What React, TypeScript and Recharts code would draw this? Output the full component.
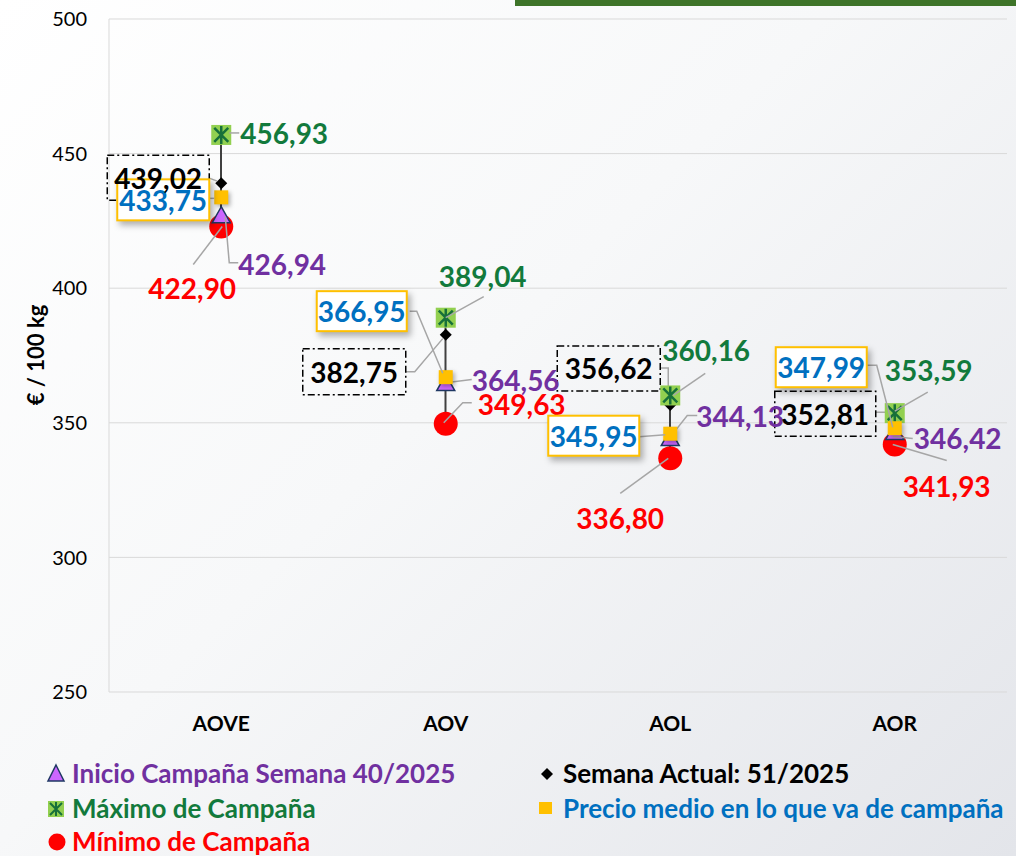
import React from "react";
import { ComposedChart, Line, Bar, XAxis, YAxis, CartesianGrid } from "recharts";

const categories = ["AOVE", "AOV", "AOL", "AOR"];
const inicio = [426.94, 364.56, 344.13, 346.42];
const actual = [439.02, 382.75, 356.62, 352.81];
const maximo = [456.93, 389.04, 360.16, 353.59];
const medio = [433.75, 366.95, 345.95, 347.99];
const minimo = [422.9, 349.63, 336.8, 341.93];
const yTicks = [250, 300, 350, 400, 450, 500];

const data = categories.map((c, i) => ({
  cat: c,
  inicio: inicio[i],
  actual: actual[i],
  maximo: maximo[i],
  medio: medio[i],
  minimo: minimo[i],
}));

type Pt = [number, number];
interface Lay {
  t?: Pt;
  p: Pt[];
  box?: [number, number, number, number];
}

// label placement, relative to the marker
const layMax: Lay[] = [
  { t: [63, -2], p: [[8, -2], [18, -2]] },
  { t: [37, -42], p: [[0, 0], [38, -21]] },
  { t: [36, -45], p: [[3, 0], [35, -22]] },
  { t: [34, -43], p: [[0, -2], [33, -21]] },
];
const layActual: Lay[] = [
  { box: [-114, -28, 102, 45], p: [[-12, -5], [-4, -2]] },
  { box: [-143, 14, 103, 46], p: [[-40, 37], [-31, 37], [-3, 4]] },
  { box: [-113, -59, 103, 45], p: [[-10, -37], [-2, -37], [-2, -6]] },
  { box: [-120, -24, 101, 45], p: [[-19, -3], [-7, -3]] },
];
const layMedio: Lay[] = [
  { box: [-104, -18, 92, 41], p: [[-12, 1], [-7, 1]] },
  { box: [-129, -86, 90, 40], p: [[-36, -66], [-29, -66], [-3, -4]] },
  { box: [-122, -18, 91, 40], p: [[-31, 3], [-5, 1]] },
  { box: [-119, -81, 91, 40], p: [[-28, -63], [-18, -63], [-2, -1]] },
];
const layInicio: Lay[] = [
  { t: [61, 48], p: [[4, 1], [8, 47], [17, 47]] },
  { t: [70, -4], p: [[2, -1], [26, -4]] },
  { t: [70, -23], p: [[-2, 1], [17, -23], [27, -23]] },
  { t: [63, 6], p: [[-2, 4], [18, 6]] },
];
const layMin: Lay[] = [
  { t: [-29, 61], p: [[1, 0], [-28, 38]] },
  { t: [76, -20], p: [[-2, -1], [17, -21], [26, -21]] },
  { t: [-50, 60], p: [[-2, 0], [-50, 35]] },
  { t: [52, 41], p: [[-2, 0], [52, 16]] },
];

const GREEN = "#127a3c";
const PURPLE = "#7030a0";
const RED = "#ff0000";
const BLUE = "#0070c0";
const FONT = "Lato, 'Open Sans', sans-serif";

const fmt = (v: number) => v.toFixed(2).replace(".", ",");

function marker(kind: string, cx: number, cy: number) {
  switch (kind) {
    case "maximo":
      return (
        <g>
          <rect x={cx - 10} y={cy - 10} width={20} height={20} fill="#92d050" />
          <path
            d={`M${cx - 7},${cy - 7}L${cx + 7},${cy + 7}M${cx + 7},${cy - 7}L${cx - 7},${cy + 7}M${cx},${cy - 9}L${cx},${cy + 9}`}
            stroke="#17703a"
            strokeWidth={2.5}
          />
        </g>
      );
    case "actual":
      return <path d={`M${cx},${cy - 6}L${cx + 6},${cy}L${cx},${cy + 6}L${cx - 6},${cy}Z`} fill="#000" />;
    case "medio":
      return (
        <rect
          x={cx - 7}
          y={cy - 7}
          width={14}
          height={14}
          fill="#ffc000"
          style={{ filter: "drop-shadow(2px 2px 2px rgba(0,0,0,0.3))" }}
        />
      );
    case "inicio":
      return (
        <path
          d={`M${cx},${cy - 9}L${cx + 9},${cy + 7}L${cx - 9},${cy + 7}Z`}
          fill="#cc66ff"
          stroke="#1f3864"
          strokeWidth={1.5}
        />
      );
    default:
      return <circle cx={cx} cy={cy} r={12} fill={RED} />;
  }
}

// parts: m = marker, b = leader + box, t = text
function makeDot(
  kind: string,
  vals: number[],
  lays: Lay[],
  color: string,
  boxStyle: "dash" | "yellow" | null,
  parts: string
) {
  return (props: any) => {
    const { cx, cy, index } = props;
    const key = `${kind}-${parts}-${index}`;
    if (cx == null || cy == null) return <g key={key} />;
    const lay = lays[index];
    const pts = lay.p.map(([dx, dy]) => `${cx + dx},${cy + dy}`).join(" ");
    let tx = cx;
    let ty = cy;
    let boxEl = null;
    if (lay.box) {
      const [bx, by, bw, bh] = lay.box;
      tx = cx + bx + bw / 2;
      ty = cy + by + bh / 2;
      boxEl =
        boxStyle === "dash" ? (
          <rect x={cx + bx} y={cy + by} width={bw} height={bh} fill="none" stroke="#000" strokeWidth={1.5} strokeDasharray="7 3 2 3" />
        ) : (
          <rect
            x={cx + bx}
            y={cy + by}
            width={bw}
            height={bh}
            fill="#fff"
            stroke="#ffc000"
            strokeWidth={2}
            style={{ filter: "drop-shadow(3px 4px 3px rgba(0,0,0,0.3))" }}
          />
        );
    } else if (lay.t) {
      tx = cx + lay.t[0];
      ty = cy + lay.t[1];
    }
    return (
      <g key={key}>
        {parts.includes("m") && marker(kind, cx, cy)}
        {parts.includes("b") && <polyline points={pts} fill="none" stroke="#a6a6a6" strokeWidth={1.5} />}
        {parts.includes("b") && boxEl}
        {parts.includes("t") && (
          <text
            x={tx}
            y={ty}
            textAnchor="middle"
            dominantBaseline="central"
            fill={color}
            fontFamily={FONT}
            fontWeight={700}
            fontSize={28}
          >
            {fmt(vals[index])}
          </text>
        )}
      </g>
    );
  };
}

const HiLow = (props: any) => {
  const { x, y, width, height } = props;
  if (x == null || y == null) return null;
  const top = Math.min(y, y + height);
  const bot = Math.max(y, y + height);
  const mx = x + width / 2;
  return <line x1={mx} x2={mx} y1={top} y2={bot} stroke="#404040" strokeWidth={2} />;
};

const legendText: React.CSSProperties = {
  position: "absolute",
  fontFamily: FONT,
  fontWeight: 700,
  fontSize: 26,
  lineHeight: "26px",
  whiteSpace: "nowrap",
};

export default function App() {
  return (
    <div
      style={{
        position: "absolute",
        left: 0,
        top: 0,
        width: 1016,
        height: 856,
        overflow: "hidden",
        background: "linear-gradient(135deg, #ffffff 0%, #f7f8f9 45%, #e3e5ea 100%)",
      }}
    >
      <div style={{ position: "absolute", left: 515, top: 0, width: 501, height: 6, background: "#3e7429" }} />
      <div
        style={{
          position: "absolute",
          left: 35,
          top: 355,
          transform: "translate(-50%, -50%) rotate(-90deg)",
          fontFamily: FONT,
          fontWeight: 700,
          fontSize: 22,
          whiteSpace: "nowrap",
          color: "#000",
        }}
      >
        € / 100 kg
      </div>
      <ComposedChart
        width={1016}
        height={740}
        data={data}
        margin={{ top: 19, right: 9, bottom: 8, left: 0 }}
        style={{ position: "absolute", left: 0, top: 0 }}
      >
        <CartesianGrid vertical={false} stroke="#d9d9d9" />
        <XAxis
          dataKey="cat"
          axisLine={false}
          tickLine={false}
          tickSize={0}
          tickMargin={24}
          height={40}
          tick={{ fill: "#000", fontSize: 21, fontWeight: 700, fontFamily: FONT }}
        />
        <YAxis
          width={109}
          domain={[250, 500]}
          ticks={yTicks}
          allowDataOverflow
          axisLine={{ stroke: "#d9d9d9" }}
          tickLine={false}
          tickSize={0}
          tickMargin={22}
          tick={{ fill: "#000", fontSize: 20, fontFamily: FONT }}
        />
        <Bar dataKey={(d: any) => [d.minimo, d.maximo]} barSize={4} shape={HiLow} isAnimationActive={false} />
        <Line dataKey="actual" stroke="none" isAnimationActive={false} activeDot={false} dot={makeDot("actual", actual, layActual, "#000", "dash", "mb")} />
        <Line dataKey="maximo" stroke="none" isAnimationActive={false} activeDot={false} dot={makeDot("maximo", maximo, layMax, GREEN, null, "mbt")} />
        <Line dataKey="minimo" stroke="none" isAnimationActive={false} activeDot={false} dot={makeDot("minimo", minimo, layMin, RED, null, "mbt")} />
        <Line dataKey="inicio" stroke="none" isAnimationActive={false} activeDot={false} dot={makeDot("inicio", inicio, layInicio, PURPLE, null, "mbt")} />
        <Line dataKey="medio" stroke="none" isAnimationActive={false} activeDot={false} dot={makeDot("medio", medio, layMedio, BLUE, "yellow", "mbt")} />
        <Line dataKey="actual" stroke="none" isAnimationActive={false} activeDot={false} dot={makeDot("actual", actual, layActual, "#000", "dash", "t")} />
      </ComposedChart>

      {/* legend */}
      <svg style={{ position: "absolute", left: 0, top: 750 }} width={1016} height={106}>
        <path d="M56,15L64,31L48,31Z" fill="#cc66ff" stroke="#1f3864" strokeWidth={1.5} />
        <rect x={48} y={51} width={16} height={16} fill="#92d050" />
        <path d="M50,53L62,65M62,53L50,65M56,52L56,66" stroke="#17703a" strokeWidth={2} />
        <circle cx={57} cy={92} r={8.5} fill={RED} />
        <path d="M547,18L553,24L547,30L541,24Z" fill="#000" />
        <rect x={539} y={52} width={13} height={12} fill="#ffc000" />
      </svg>
      <div style={{ ...legendText, left: 72, top: 760, color: PURPLE }}>Inicio Campaña Semana 40/2025</div>
      <div style={{ ...legendText, left: 72, top: 795, color: GREEN }}>Máximo de Campaña</div>
      <div style={{ ...legendText, left: 72, top: 828, color: RED }}>Mínimo de Campaña</div>
      <div style={{ ...legendText, left: 563, top: 760, color: "#000" }}>Semana Actual: 51/2025</div>
      <div style={{ ...legendText, left: 563, top: 795, color: BLUE }}>Precio medio en lo que va de campaña</div>
    </div>
  );
}
